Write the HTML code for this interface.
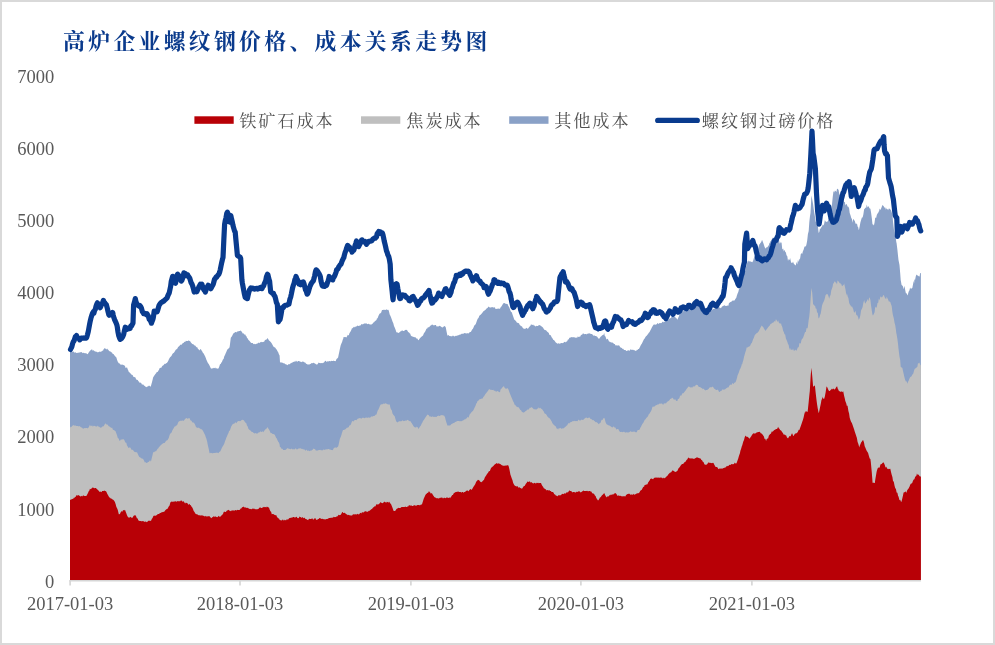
<!DOCTYPE html>
<html lang="zh"><head><meta charset="utf-8"><title>高炉企业螺纹钢价格、成本关系走势图</title>
<style>
html,body{margin:0;padding:0;background:#fff;}
body{width:995px;height:645px;overflow:hidden;}
svg{display:block;will-change:transform;}
.num{font-family:"Liberation Serif",serif;font-size:18.5px;fill:#595959;}
.leg{font-family:"Liberation Serif","Noto Serif CJK SC",serif;font-size:17.2px;fill:#505050;font-weight:400;letter-spacing:1.9px;}
.title{font-family:"Liberation Serif","Noto Serif CJK SC",serif;font-size:21.8px;font-weight:700;fill:#0A3A8C;letter-spacing:3.35px;}
</style></head><body>
<svg width="995" height="645" viewBox="0 0 995 645">
<rect x="0" y="0" width="995" height="645" fill="#D9D9D9"/>
<rect x="2" y="2" width="991" height="641" fill="#FFFFFF"/>
<text x="63.1" y="48.5" class="title">高炉企业螺纹钢价格、成本关系走势图</text>
<text x="54.2" y="82.7" text-anchor="end" class="num">7000</text>
<text x="54.2" y="154.8" text-anchor="end" class="num">6000</text>
<text x="54.2" y="227.0" text-anchor="end" class="num">5000</text>
<text x="54.2" y="299.1" text-anchor="end" class="num">4000</text>
<text x="54.2" y="371.3" text-anchor="end" class="num">3000</text>
<text x="54.2" y="443.4" text-anchor="end" class="num">2000</text>
<text x="54.2" y="515.5" text-anchor="end" class="num">1000</text>
<text x="54.2" y="587.7" text-anchor="end" class="num">0</text>

<path d="M70.0,580.0L70.0,351.0L70.9,351.8L71.6,351.2L72.3,351.8L73.0,351.7L73.8,351.6L74.5,352.8L75.2,352.6L75.5,352.1L75.9,352.7L76.6,353.1L77.3,352.8L78.0,353.0L78.7,352.4L79.4,352.4L80.1,352.5L80.9,352.1L81.6,351.9L82.2,353.2L83.0,352.4L83.7,352.9L84.4,353.1L85.1,353.5L85.8,353.1L86.5,353.6L87.2,354.1L87.7,354.3L88.7,352.6L89.4,351.5L89.9,351.0L90.8,350.1L91.5,349.5L92.2,349.6L92.9,350.9L93.6,350.0L94.3,351.0L95.1,351.4L95.5,351.4L96.5,351.7L97.2,352.0L97.9,352.4L98.6,352.1L99.3,351.7L100.0,351.6L101.0,352.1L101.4,351.4L102.2,350.6L102.9,350.9L103.6,349.3L104.3,348.6L105.0,348.1L105.5,348.8L106.4,349.4L107.1,348.6L107.8,349.4L108.5,349.9L109.3,351.5L110.0,350.7L110.7,352.0L111.0,352.1L111.4,352.2L112.1,352.7L112.8,353.9L113.5,354.1L114.2,355.0L114.9,356.0L115.4,356.5L116.4,357.6L117.1,360.1L117.8,361.8L118.8,363.2L119.2,363.6L119.9,363.5L120.6,364.7L121.3,364.7L122.0,364.6L122.7,364.7L123.5,364.9L124.3,365.4L124.9,365.7L125.6,368.0L126.3,367.8L127.0,367.3L127.7,369.3L128.4,370.8L128.8,372.0L129.1,372.1L129.8,372.8L130.6,373.6L131.3,374.6L132.0,374.8L132.7,375.2L133.4,376.8L134.1,377.2L134.8,377.0L135.4,377.6L136.2,379.6L136.9,379.8L137.7,379.9L138.4,381.2L139.1,381.7L139.8,383.1L140.5,382.4L141.2,383.1L141.9,384.5L142.6,384.6L143.3,384.4L144.0,385.5L144.8,386.0L145.4,386.5L146.2,387.2L146.9,386.7L147.6,386.4L148.3,386.3L149.0,385.6L149.7,386.1L150.4,386.7L150.9,386.0L151.9,382.6L152.6,379.7L153.1,377.6L154.0,375.9L154.7,375.1L155.4,374.0L156.1,373.3L156.8,371.9L157.6,372.0L158.2,371.0L159.0,369.7L159.7,368.0L160.4,367.8L161.1,367.9L161.8,366.7L162.5,365.7L163.1,365.4L163.9,364.8L164.6,363.8L165.3,364.0L166.1,363.2L166.8,363.1L167.6,362.1L168.2,361.1L168.9,359.2L169.6,358.1L170.3,357.1L171.0,356.6L171.7,355.5L172.4,354.0L173.1,353.2L173.9,352.8L174.6,351.7L175.3,350.5L176.0,349.6L176.7,349.3L177.4,348.6L178.1,347.1L178.8,346.6L179.8,345.4L180.3,344.6L181.0,344.9L181.7,344.6L182.4,343.4L183.1,342.9L183.8,342.7L184.2,342.1L184.5,341.8L185.2,341.9L185.9,340.7L186.6,340.9L187.4,341.1L188.1,340.9L188.6,340.3L189.5,341.0L190.2,341.2L190.9,342.4L191.6,343.3L192.3,343.9L193.1,344.3L193.7,344.4L194.5,345.5L195.2,345.5L195.9,346.5L196.6,347.2L197.5,347.6L198.0,349.2L198.7,349.2L199.4,350.5L200.1,349.4L200.8,348.9L201.6,350.5L201.9,351.0L202.3,351.6L203.0,353.0L203.7,353.5L204.4,355.0L205.1,356.3L205.8,358.1L206.4,359.8L207.2,361.5L207.9,363.0L208.7,363.9L209.4,365.2L210.1,366.7L210.8,368.3L211.5,368.7L212.2,367.9L212.9,368.8L213.6,367.8L214.3,368.3L215.2,367.6L215.8,368.5L216.5,368.3L217.2,368.5L217.9,368.8L218.6,368.3L219.3,366.4L220.0,364.3L220.7,364.1L221.4,362.5L221.9,362.1L222.9,359.6L223.6,359.1L224.3,356.3L225.0,355.0L225.7,353.3L226.3,352.1L227.1,350.0L227.8,348.9L228.5,348.5L229.2,348.0L229.7,346.5L230.8,337.7L231.4,337.1L232.1,336.1L232.8,334.5L233.5,333.2L234.2,333.1L235.2,332.1L235.6,331.9L236.3,332.4L237.1,331.4L237.8,331.6L238.5,331.3L239.2,331.0L239.9,331.1L240.7,330.6L241.3,331.3L242.0,331.9L242.7,333.4L243.4,333.3L244.2,334.2L244.9,334.8L245.2,334.3L245.6,335.5L246.3,336.0L247.0,337.8L247.7,338.4L248.5,339.9L249.1,340.4L249.8,341.3L250.5,342.2L251.3,342.9L252.0,343.0L252.7,342.9L253.4,343.9L254.1,344.3L254.8,343.8L255.5,344.3L256.2,344.1L256.9,343.4L257.6,343.6L258.4,342.8L259.1,342.5L259.6,343.2L260.5,342.1L261.2,342.3L261.9,341.7L262.6,342.3L263.3,341.8L264.0,342.1L264.7,340.4L265.5,339.8L266.2,339.7L266.9,339.0L267.4,338.1L268.3,339.3L269.0,340.5L269.7,341.0L270.7,342.1L271.1,342.5L271.8,343.4L272.6,344.9L273.3,346.2L274.0,347.3L274.7,347.2L275.1,347.6L276.1,349.1L276.8,349.7L277.5,351.3L278.2,352.2L278.9,354.3L279.6,355.4L280.0,362.1L280.4,362.4L281.1,362.5L281.8,362.5L282.5,362.8L283.2,363.1L283.9,363.4L284.4,363.2L285.3,364.3L286.0,364.2L286.8,364.8L287.5,365.2L288.2,364.3L288.9,364.3L289.6,364.2L290.3,363.5L291.0,363.2L291.7,362.7L292.4,362.5L293.3,362.1L293.9,361.7L294.6,361.6L295.3,361.7L296.0,360.6L296.7,361.6L297.4,361.8L298.1,361.0L298.8,360.9L299.5,361.3L300.2,361.8L301.0,361.7L301.7,362.3L302.2,361.6L303.1,361.7L303.8,361.8L304.5,362.6L305.2,362.6L305.9,363.4L306.6,364.1L307.3,364.3L308.1,364.8L308.8,364.3L309.5,364.4L310.2,364.0L310.9,363.7L311.6,363.1L312.3,363.2L313.0,363.0L313.7,362.7L314.4,363.3L315.2,363.7L315.5,363.8L315.9,364.3L316.6,364.4L317.3,364.4L318.0,363.5L318.7,362.6L319.4,363.0L320.1,363.0L320.8,363.2L321.5,363.1L322.3,363.3L323.0,362.7L323.7,362.7L324.4,362.1L325.1,360.7L325.8,361.0L326.5,362.0L327.2,361.0L327.9,361.7L328.6,361.3L329.4,361.1L330.1,361.2L330.8,361.3L331.5,360.7L332.2,360.9L332.9,361.1L333.2,360.9L333.6,360.6L334.3,360.9L335.0,361.0L335.7,361.2L336.5,359.1L337.2,358.6L338.1,357.6L338.6,355.0L339.3,351.8L339.9,348.8L340.7,345.2L341.4,343.6L342.1,342.0L342.8,339.5L343.2,338.8L343.6,337.1L344.3,337.0L345.0,337.2L345.7,337.1L346.4,337.5L347.1,336.2L347.8,334.8L348.8,335.4L349.2,333.8L349.9,332.5L350.7,331.3L351.4,329.8L352.1,327.7L352.8,328.6L353.5,326.9L354.2,326.7L354.9,327.5L355.6,326.6L356.3,326.6L357.0,326.0L357.6,325.5L358.5,326.0L359.2,326.0L359.9,325.3L360.6,325.4L361.3,324.3L362.0,323.9L362.7,324.4L363.4,324.1L364.1,323.4L364.9,323.6L365.6,323.6L366.5,323.2L367.0,324.3L367.7,324.0L368.4,323.8L369.1,324.0L369.8,324.4L370.5,324.5L371.2,324.5L372.0,324.2L372.7,323.4L373.4,322.4L374.1,322.2L374.8,321.2L375.5,320.8L376.5,319.9L376.9,318.5L377.6,318.2L378.3,316.3L379.1,314.4L379.8,313.4L380.5,313.2L381.2,312.4L382.0,309.9L382.6,310.0L383.3,310.0L384.0,309.6L384.7,310.0L385.4,310.0L386.2,309.5L386.9,309.6L387.6,309.9L388.3,309.8L388.7,310.6L389.0,311.4L389.7,314.4L390.4,315.8L391.1,317.5L392.0,319.9L392.5,321.5L393.3,323.2L394.0,326.1L394.7,327.4L395.4,329.2L396.1,331.2L396.4,332.8L396.8,332.1L397.5,332.4L398.2,333.0L398.9,332.7L399.6,332.2L400.4,331.2L400.9,331.5L401.8,330.6L402.5,330.6L403.2,331.1L403.9,330.9L404.6,330.4L405.3,329.9L406.0,329.8L406.4,329.9L406.7,329.8L407.5,330.7L408.2,332.2L408.9,332.2L409.6,333.2L410.3,333.8L410.8,335.4L411.7,336.2L412.4,336.6L413.1,336.8L413.8,337.0L414.6,337.3L415.3,337.2L416.0,337.7L416.7,338.7L417.4,338.6L418.1,339.9L418.6,340.3L419.5,338.8L420.2,338.0L420.9,337.3L421.7,336.5L422.4,336.1L423.0,335.4L423.8,333.5L424.5,332.4L425.2,331.4L425.9,329.9L426.4,328.8L427.3,328.5L428.0,327.0L428.8,327.4L429.5,326.8L430.2,325.8L430.9,325.5L431.6,324.4L431.9,325.5L432.3,324.4L433.0,324.7L433.7,325.6L434.4,325.3L435.1,325.1L435.9,325.1L436.6,326.5L437.3,326.5L438.0,326.3L438.6,326.6L439.4,325.7L440.1,326.0L440.8,326.5L441.5,327.1L442.2,327.4L443.0,327.2L443.7,326.6L444.4,326.1L445.2,326.6L445.8,327.6L446.5,331.2L447.4,335.4L447.9,335.5L448.6,335.0L449.3,335.9L450.1,336.1L450.8,336.2L451.5,336.5L452.2,335.4L453.0,336.6L453.6,335.5L454.3,336.6L455.0,336.2L455.7,335.7L456.4,336.0L457.2,335.2L457.9,335.8L458.6,335.1L459.3,334.9L460.0,334.3L460.7,334.8L461.4,333.4L461.9,334.3L462.8,333.6L463.5,333.7L464.3,333.0L465.0,333.3L465.7,333.3L466.4,333.5L467.1,333.3L467.8,333.3L468.5,333.4L469.2,332.7L469.9,331.9L470.7,332.1L471.4,330.9L472.1,329.5L472.8,328.9L473.5,327.5L474.2,325.7L475.2,324.4L475.6,324.5L476.3,322.5L477.0,320.4L477.7,318.7L478.5,317.9L479.2,316.1L479.6,315.5L480.6,314.7L481.3,313.9L482.0,313.2L482.7,312.2L483.4,311.2L484.0,311.0L484.8,310.2L485.6,309.8L486.3,308.7L487.0,308.2L487.7,307.7L488.5,306.6L489.1,307.1L489.8,307.6L490.5,307.4L491.2,307.4L491.9,306.9L492.7,307.3L493.4,307.4L494.1,307.4L494.8,307.2L495.1,307.7L495.5,309.1L496.2,308.9L496.9,308.7L497.6,308.8L498.3,308.4L499.0,308.7L500.0,308.8L500.5,307.6L501.2,306.7L501.9,305.7L502.6,304.4L503.3,303.2L504.0,303.3L504.7,302.9L505.4,303.8L506.1,303.7L506.9,304.0L507.8,304.3L508.3,305.9L509.0,306.8L509.7,308.5L510.4,310.5L511.1,312.1L511.8,312.3L512.5,314.6L513.2,316.6L514.0,318.7L514.4,319.8L515.4,320.6L516.1,321.2L516.8,322.4L517.5,322.8L518.2,323.3L518.9,323.1L519.6,324.8L520.3,325.3L521.1,326.4L521.8,326.0L522.5,327.4L523.3,328.7L523.9,328.2L524.6,328.9L525.3,328.7L526.0,328.3L526.7,327.8L527.4,328.7L528.2,328.5L528.8,327.6L529.6,326.5L530.3,326.1L531.0,324.3L531.7,324.8L532.4,325.0L533.1,324.5L533.8,325.5L534.5,325.4L535.5,326.5L536.0,326.2L536.7,325.8L537.4,326.0L538.1,325.9L538.8,325.1L539.5,325.1L539.9,325.4L540.2,325.6L540.9,325.7L541.6,326.6L542.4,327.0L543.1,327.8L543.8,328.9L544.4,329.8L545.2,330.2L545.9,330.0L546.6,331.1L547.3,331.7L548.0,332.2L548.8,333.1L549.5,335.0L550.2,335.0L550.9,335.4L551.6,337.2L552.3,337.9L553.2,339.8L553.7,339.9L554.4,340.4L555.1,341.6L555.8,342.6L556.6,343.1L557.3,343.7L557.7,343.5L558.0,343.4L558.7,343.2L559.4,343.7L560.1,343.6L560.8,343.2L561.5,343.0L562.2,343.1L562.9,343.2L563.7,342.6L564.3,342.0L565.1,341.8L565.8,342.5L566.5,341.5L567.2,341.2L567.9,339.5L568.6,339.5L569.3,338.1L570.0,337.4L571.0,337.6L571.5,337.0L572.2,337.2L572.9,337.3L573.6,337.3L574.3,336.9L575.0,338.1L575.7,337.6L576.4,337.4L577.1,338.0L577.6,336.5L578.6,337.1L579.3,336.6L580.0,337.0L580.7,335.6L581.4,334.8L582.1,334.8L582.8,333.6L583.5,333.5L584.3,334.2L585.0,334.0L585.7,334.1L586.4,334.4L587.1,333.6L587.8,333.9L588.5,333.5L589.2,333.1L589.8,333.8L590.6,333.8L591.3,333.9L592.1,334.0L592.8,335.0L593.5,335.7L594.3,335.3L594.9,336.1L595.6,336.0L596.3,336.3L597.0,336.5L597.7,337.6L598.7,338.7L599.2,338.8L599.9,337.8L600.6,336.8L601.3,336.2L602.0,335.5L602.7,335.0L603.4,334.9L604.2,333.1L604.8,336.0L605.5,336.6L606.5,339.8L607.0,338.7L607.7,339.1L608.4,339.9L609.1,341.7L609.8,341.4L610.5,342.3L611.2,342.3L611.9,342.7L612.6,342.4L613.1,343.1L614.1,344.0L614.8,343.9L615.5,345.4L616.2,345.3L616.9,345.6L617.6,345.6L618.3,345.4L619.0,345.2L619.8,346.4L620.5,347.4L621.2,347.8L621.9,348.0L622.6,348.9L623.3,348.7L624.0,349.9L624.7,350.1L625.4,350.0L626.4,350.9L626.8,351.1L627.6,350.5L628.3,350.3L629.0,350.5L629.7,350.7L630.4,349.6L630.8,349.3L631.8,349.9L632.5,349.8L633.2,349.8L633.9,350.3L634.7,350.2L635.4,351.0L636.1,350.4L636.4,350.9L636.8,349.7L637.5,350.1L638.2,349.1L638.9,348.9L639.7,347.5L640.3,346.3L641.0,344.8L641.8,343.8L642.5,342.2L643.2,340.7L644.2,338.7L644.6,338.8L645.3,337.3L646.0,336.3L646.7,335.8L647.4,334.8L648.1,333.9L648.6,333.1L649.6,332.0L650.3,330.4L651.0,329.2L651.7,327.8L652.4,326.6L653.0,325.4L653.8,324.6L654.5,324.6L655.2,324.8L656.0,324.4L656.7,324.2L657.5,323.1L658.1,323.4L658.8,324.0L659.5,323.1L660.2,323.0L660.9,323.3L661.6,323.0L662.3,322.1L663.1,321.6L663.8,322.5L664.1,322.0L664.5,321.7L665.2,321.7L665.9,321.3L666.6,320.0L667.3,319.1L668.0,319.3L668.5,319.8L669.4,318.6L670.2,318.3L670.9,318.0L671.6,316.9L672.3,315.8L673.0,316.5L673.7,316.6L674.4,316.8L675.1,316.7L675.8,318.1L676.5,318.3L677.4,319.8L678.0,318.2L678.7,316.7L679.6,314.3L680.1,313.5L680.8,311.7L681.5,311.5L682.2,311.4L682.9,311.0L683.6,311.3L684.1,310.9L685.1,310.2L685.8,310.4L686.5,310.1L687.2,309.6L687.9,310.1L688.6,308.8L689.3,309.4L690.0,309.6L690.7,308.7L691.5,307.9L692.2,307.7L692.9,306.9L693.6,306.6L694.3,306.2L695.2,306.5L695.7,305.9L696.4,304.9L697.1,305.9L697.8,306.2L698.6,305.5L699.3,305.8L699.6,305.4L700.0,305.8L700.7,306.8L701.4,307.7L702.1,309.2L702.8,310.1L703.5,310.5L704.0,312.1L704.9,311.8L705.7,312.0L706.4,312.8L707.1,311.7L707.8,311.1L708.5,310.9L709.2,310.8L709.9,310.6L710.6,310.1L711.3,311.0L712.0,310.3L712.9,308.7L713.5,309.1L714.2,309.0L714.9,307.9L715.6,307.9L716.3,308.3L717.0,307.6L717.7,307.7L718.4,307.7L719.1,307.4L720.0,307.6L720.6,308.3L721.3,307.7L722.0,306.6L722.7,306.3L723.4,305.8L724.1,305.5L724.8,305.3L725.5,306.1L726.2,305.9L727.0,305.8L727.7,305.4L728.4,305.7L728.9,303.2L729.8,302.5L730.5,302.1L731.2,301.8L731.9,301.3L732.6,300.4L733.3,300.4L734.1,300.7L734.8,299.9L735.5,298.8L736.2,297.9L736.9,295.6L737.6,293.5L738.3,291.9L739.0,289.0L740.0,287.7L740.4,286.1L741.2,283.8L741.9,281.4L742.6,278.9L743.3,275.6L744.0,274.2L744.4,272.2L744.7,271.6L745.4,270.6L746.1,266.8L746.8,264.6L747.7,261.1L748.3,260.6L749.0,262.0L749.7,261.1L750.4,261.6L751.1,261.8L751.8,262.1L752.2,262.2L752.5,261.9L753.2,260.4L753.9,258.1L754.6,256.2L755.4,255.3L756.1,253.4L756.6,253.1L757.5,250.8L758.2,248.5L758.9,245.8L759.6,243.8L759.9,244.2L760.3,242.9L761.0,242.6L761.7,240.7L762.1,239.8L762.5,241.1L763.2,242.8L763.9,244.7L764.6,247.0L765.5,248.6L766.0,248.3L766.7,247.1L767.4,247.2L768.1,245.9L768.8,245.2L769.6,242.5L769.9,243.1L770.3,241.5L771.0,240.8L771.7,239.6L772.4,238.1L773.2,237.5L773.8,238.2L774.5,239.4L775.2,239.7L775.9,241.9L776.6,240.9L777.4,241.5L778.1,239.6L778.8,241.3L779.5,244.0L779.9,239.8L780.2,243.4L780.9,241.9L781.6,243.1L782.3,249.6L783.2,248.6L783.8,251.4L784.5,249.7L785.2,251.7L785.9,252.4L786.5,255.3L787.3,256.2L788.0,261.1L788.7,259.0L789.4,260.3L790.1,258.1L791.0,261.9L791.6,263.0L792.3,263.0L793.0,261.5L793.7,263.5L794.3,264.2L795.1,265.0L795.8,265.4L796.5,261.8L797.2,264.4L797.6,261.9L798.0,259.5L798.7,261.9L799.4,259.2L800.1,258.6L800.8,254.0L801.5,252.9L802.1,254.2L802.9,251.3L803.6,249.8L804.3,247.2L805.1,245.9L805.8,246.7L806.5,244.2L807.2,240.5L807.9,234.3L808.7,230.9L809.3,222.3L810.0,216.0L810.5,213.1L811.4,195.4L812.2,199.2L813.1,204.3L813.6,207.9L814.3,212.9L815.0,217.1L815.8,222.0L816.4,221.4L817.1,224.7L817.8,226.1L818.7,233.1L819.3,231.9L820.0,228.0L820.7,229.1L821.4,226.9L822.0,226.5L822.8,224.6L823.5,225.4L824.2,223.5L824.9,220.0L825.6,221.4L826.5,222.0L827.1,221.6L827.8,221.4L828.5,218.1L829.2,218.0L829.8,217.6L830.6,212.5L831.3,208.4L832.0,204.3L832.7,197.3L833.5,191.0L834.2,192.4L834.9,190.5L835.6,191.1L836.4,192.1L837.0,188.9L837.7,188.8L838.6,189.9L839.1,193.3L839.8,194.7L840.6,198.3L840.9,197.6L841.3,199.2L842.0,195.1L842.7,198.0L843.4,200.0L844.2,202.1L844.8,201.9L845.5,205.5L846.2,204.0L846.9,204.5L847.5,206.5L848.4,206.7L849.1,208.3L849.7,213.1L850.5,215.2L851.2,217.8L851.9,219.1L852.6,222.7L853.1,218.7L854.0,220.1L854.8,221.1L855.5,223.4L856.4,224.2L856.9,223.1L857.6,226.5L858.3,227.4L858.6,229.8L859.0,229.8L859.7,226.3L860.4,222.4L861.1,220.0L861.9,217.6L862.6,217.4L863.3,214.8L864.2,208.7L864.7,209.0L865.4,207.6L866.1,208.1L866.8,204.6L867.5,207.6L868.2,205.9L869.0,207.2L869.7,208.4L870.4,208.7L871.1,212.8L871.8,218.0L872.5,224.5L873.0,224.2L873.9,225.6L874.6,222.3L875.2,217.6L876.1,218.0L876.8,214.9L877.5,213.5L878.2,212.9L878.6,210.9L878.9,212.2L879.6,208.4L880.3,210.0L881.0,208.8L881.7,207.0L882.4,204.9L883.0,205.4L883.9,206.6L884.6,207.8L885.3,207.5L886.0,210.0L886.3,207.6L886.7,208.9L887.4,208.9L888.1,210.3L888.8,208.6L889.7,208.7L890.3,209.4L891.0,210.0L891.9,213.1L892.4,214.5L893.1,222.5L894.1,230.9L894.5,232.6L895.2,237.5L895.9,238.9L896.3,242.0L896.6,243.2L897.4,249.8L898.1,256.5L898.5,260.0L899.5,265.1L900.2,273.2L900.7,279.9L901.6,284.9L902.3,285.6L903.0,286.6L903.7,289.3L904.5,285.7L905.2,289.9L905.9,293.2L906.6,293.3L907.4,295.4L908.0,294.0L908.7,291.4L909.4,290.4L910.1,287.5L910.7,288.8L911.6,288.6L912.3,287.9L913.0,284.6L913.7,280.7L914.1,283.2L914.4,279.5L915.1,279.7L915.8,276.2L916.5,274.5L917.4,275.5L917.9,275.6L918.7,276.2L919.6,276.6L920.1,273.1L920.9,273.3L920.9,580.0Z" fill="#8AA1C7"/>
<path d="M70.0,580.0L70.0,427.7L70.9,426.5L71.6,427.0L72.3,425.6L73.0,425.8L73.8,424.7L74.5,425.7L75.2,425.6L75.5,425.5L75.9,425.7L76.6,426.1L77.3,426.1L78.0,426.0L78.7,426.4L79.4,426.1L80.1,426.5L80.9,427.3L81.6,427.6L82.2,427.7L83.0,428.8L83.7,428.5L84.4,428.0L85.1,428.2L85.8,428.0L86.5,427.9L87.2,428.0L87.7,428.4L88.7,427.3L89.4,426.1L89.9,424.8L90.8,426.3L91.5,425.8L92.2,425.4L92.9,426.8L93.6,425.7L94.3,425.7L95.1,426.3L95.5,426.2L96.5,426.7L97.2,425.6L97.9,426.6L98.6,426.6L99.3,426.8L100.0,427.4L101.0,427.7L101.4,427.5L102.2,426.5L102.9,426.5L103.6,426.2L104.3,425.1L105.0,423.9L105.5,423.3L106.4,424.5L107.1,424.4L107.8,424.8L108.5,426.1L109.3,426.4L110.0,426.8L110.7,427.5L111.0,427.7L111.4,428.0L112.1,427.6L112.8,429.4L113.5,429.9L114.2,429.9L114.9,431.0L115.4,431.0L116.4,433.4L117.1,435.4L117.8,437.9L118.8,438.8L119.2,440.3L119.9,440.9L120.6,439.7L121.3,439.3L122.0,439.9L122.7,439.0L123.5,439.3L124.3,439.9L124.9,441.6L125.6,442.8L126.3,442.8L127.0,445.5L127.7,446.6L128.4,447.9L128.8,447.7L129.1,447.5L129.8,447.4L130.6,447.7L131.3,449.7L132.0,449.6L132.7,450.1L133.4,450.5L134.1,451.4L134.8,452.0L135.4,452.1L136.2,452.6L136.9,452.1L137.7,453.8L138.4,455.2L139.1,456.7L139.8,457.2L140.5,457.6L141.2,458.5L141.9,458.3L142.6,458.8L143.3,459.3L144.0,460.5L144.8,462.4L145.4,462.1L146.2,463.1L146.9,462.7L147.6,462.4L148.3,461.9L149.0,461.7L149.7,460.5L150.4,460.4L150.9,461.7L151.9,457.4L152.6,454.8L153.1,452.1L154.0,452.6L154.7,451.4L155.4,451.2L156.1,451.3L156.8,450.1L157.6,448.8L158.2,448.6L159.0,446.9L159.7,446.5L160.4,445.5L161.1,445.0L161.8,444.2L162.5,443.8L163.1,443.2L163.9,443.1L164.6,443.0L165.3,441.9L166.1,440.8L166.8,440.4L167.6,439.9L168.2,439.0L168.9,437.6L169.6,435.1L170.3,433.4L170.9,433.3L171.7,432.2L172.4,430.3L173.2,429.1L173.9,427.7L174.6,426.6L175.3,426.6L176.0,425.6L176.7,425.4L177.4,424.4L178.1,422.6L178.8,421.6L179.8,421.1L180.3,421.0L181.0,420.3L181.7,420.9L182.4,420.6L183.1,420.4L183.8,420.9L184.2,420.0L184.5,419.8L185.2,419.0L185.9,418.3L186.6,418.0L187.4,418.7L188.1,418.4L188.6,418.2L189.5,417.9L190.2,419.8L190.9,420.8L191.6,420.7L192.3,422.6L193.1,422.2L193.7,422.7L194.5,423.6L195.2,425.1L195.9,426.7L196.6,427.6L197.5,427.7L198.0,427.9L198.7,427.5L199.4,428.2L200.1,428.5L200.8,429.2L201.6,429.0L201.9,429.9L202.3,429.8L203.0,431.0L203.7,432.3L204.4,433.7L205.1,435.0L205.8,437.3L206.4,438.8L207.2,441.8L207.9,445.5L208.7,448.8L209.4,452.5L209.7,453.2L210.1,453.3L210.8,452.8L211.5,453.0L212.2,453.2L212.9,453.2L213.6,452.9L214.3,453.1L215.2,452.8L215.8,453.1L216.5,452.6L217.2,453.0L217.9,452.6L218.6,453.2L219.3,451.7L220.0,451.7L220.7,450.6L221.4,449.0L221.9,447.7L222.9,446.1L223.6,445.0L224.3,443.5L225.0,441.3L225.7,439.5L226.3,437.7L227.1,436.0L227.8,434.2L228.5,432.9L229.2,430.6L229.7,431.0L230.7,428.0L231.4,426.0L231.9,425.5L232.8,424.1L233.5,423.8L234.2,423.8L234.9,422.8L235.6,422.3L236.3,423.3L237.1,422.1L237.4,421.7L237.8,421.2L238.5,421.1L239.2,420.9L239.9,421.2L240.6,421.1L241.3,420.3L241.9,420.0L242.7,419.8L243.4,420.0L244.2,420.7L244.9,422.0L245.6,422.7L246.3,423.3L247.0,425.4L247.7,426.4L248.4,428.8L249.1,429.4L249.6,429.9L250.5,430.4L251.3,431.6L252.0,431.9L252.7,431.9L253.4,432.8L254.1,433.3L254.8,433.4L255.5,433.0L256.2,433.4L256.9,433.5L257.6,433.5L258.4,432.5L259.1,432.5L259.6,432.2L260.5,431.2L261.2,432.0L261.9,431.7L262.6,431.3L263.3,432.3L264.0,431.0L264.7,430.2L265.5,429.3L266.2,428.8L266.9,428.2L267.4,427.1L268.3,428.5L269.0,429.6L269.7,430.8L270.7,433.3L271.1,433.0L271.8,433.3L272.6,433.9L273.3,434.0L274.0,434.2L274.7,434.8L275.1,435.5L276.1,437.8L276.8,438.6L277.5,440.2L278.2,441.7L278.9,442.4L279.6,444.4L280.0,447.6L280.4,446.8L281.1,447.9L281.8,448.9L282.5,448.7L283.2,450.0L283.9,450.1L284.4,449.9L285.3,449.9L286.0,449.5L286.8,448.8L287.5,448.0L288.2,448.7L288.9,448.5L289.6,449.1L290.3,449.3L291.0,448.9L291.7,448.6L292.4,449.5L293.3,448.8L293.9,449.8L294.6,449.2L295.3,448.5L296.0,448.4L296.7,449.4L297.4,449.3L298.1,448.9L298.8,448.2L299.5,448.5L300.2,448.2L301.0,448.5L301.7,449.0L302.2,448.8L303.1,449.4L303.8,449.2L304.5,449.5L305.2,450.6L305.9,450.5L306.6,449.6L307.3,450.7L308.1,450.8L308.8,450.5L309.5,451.3L310.2,450.8L310.9,450.4L311.6,450.5L312.3,450.0L313.0,449.3L313.7,448.6L314.4,449.1L315.2,449.2L315.5,449.9L315.9,450.5L316.6,450.6L317.3,450.8L318.0,450.1L318.7,450.2L319.4,449.9L320.1,449.8L320.8,450.2L321.5,450.3L322.3,450.3L323.0,450.2L323.7,449.3L324.4,449.9L325.1,449.6L325.8,449.5L326.5,449.2L327.2,449.5L327.9,449.1L328.6,448.9L329.4,449.6L330.1,449.3L330.8,450.0L331.5,449.9L332.2,450.0L332.9,450.2L333.2,449.2L333.6,448.6L334.3,447.8L335.0,447.5L335.7,447.4L336.5,447.8L337.2,447.2L338.1,446.5L338.6,444.7L339.3,441.4L339.9,438.8L340.7,437.1L341.4,434.9L342.1,432.6L342.8,430.6L343.2,429.9L343.6,429.9L344.3,429.8L345.0,429.5L345.7,429.0L346.4,428.2L347.1,427.6L347.8,427.8L348.8,427.0L349.2,425.6L349.9,425.4L350.7,424.7L351.4,423.0L352.1,421.0L352.8,421.2L353.5,421.4L354.2,420.5L354.9,420.1L355.6,420.0L356.3,420.2L357.0,419.4L357.6,418.8L358.5,418.6L359.2,418.3L359.9,418.0L360.6,418.2L361.3,418.7L362.0,418.1L362.7,417.8L363.4,417.7L364.1,417.9L364.9,418.2L365.6,417.4L366.5,417.7L367.0,417.2L367.7,417.9L368.4,417.5L369.1,417.3L369.8,418.1L370.5,417.3L371.2,416.6L372.0,416.6L372.7,416.4L373.4,416.1L374.1,415.9L374.8,415.8L375.5,414.8L376.5,414.4L376.9,413.3L377.6,410.7L378.3,409.8L379.1,408.0L379.8,406.3L380.5,404.8L380.9,404.4L381.9,404.2L382.6,404.2L383.3,403.6L384.0,403.8L384.7,403.8L385.3,403.3L386.2,403.5L386.9,404.1L387.6,404.3L388.3,404.6L389.0,404.6L389.8,404.4L390.4,407.8L391.1,409.5L391.8,410.3L392.5,413.4L393.1,414.4L394.0,415.6L394.7,416.3L395.4,418.8L396.1,421.1L396.4,421.7L396.8,421.8L397.5,422.4L398.2,421.9L398.9,421.3L399.6,421.3L400.4,421.3L401.1,421.2L402.0,421.0L402.5,420.0L403.2,421.2L403.9,420.8L404.6,421.1L405.3,420.5L406.0,420.7L406.7,420.6L407.5,419.8L408.2,420.3L408.6,420.6L409.6,421.2L410.3,421.1L411.0,422.2L411.7,423.0L412.4,424.3L413.1,425.5L413.8,426.6L414.6,427.2L415.3,427.2L416.0,427.7L416.7,426.6L417.4,427.2L418.1,427.8L418.6,429.2L419.5,427.3L420.2,426.2L420.9,425.4L421.7,423.5L422.4,422.4L423.0,421.0L423.8,419.9L424.5,419.0L425.2,417.7L425.9,416.8L426.6,415.7L427.5,414.4L428.0,414.8L428.8,415.2L429.5,416.6L430.2,416.6L430.9,416.6L431.6,417.0L432.3,416.4L433.0,416.6L433.7,417.0L434.4,416.8L435.1,416.9L435.9,416.8L436.6,416.9L437.3,416.0L438.0,416.0L438.6,415.5L439.4,416.1L440.1,415.9L440.8,415.1L441.5,415.3L442.2,414.9L443.0,415.6L443.7,415.4L444.1,415.5L445.1,417.6L445.8,420.6L446.5,422.8L447.4,425.5L447.9,425.5L448.6,425.4L449.3,425.6L450.1,425.4L450.8,424.8L451.5,423.9L452.2,423.7L453.0,423.2L453.6,423.1L454.3,422.9L455.0,421.8L455.7,421.9L456.4,421.5L457.4,421.0L457.9,421.1L458.6,420.9L459.3,421.1L460.0,421.4L460.7,421.1L461.4,421.2L461.9,421.0L462.8,420.6L463.5,420.2L464.3,419.2L465.0,419.7L465.7,418.8L466.4,418.6L467.1,417.7L467.8,416.8L468.5,417.7L469.2,415.7L469.9,414.1L470.6,413.6L471.4,412.2L472.1,411.6L472.9,411.0L473.5,409.9L474.2,408.4L474.9,407.0L475.6,405.4L476.3,403.6L477.0,402.7L477.4,401.1L477.7,401.2L478.5,400.6L479.2,399.4L479.9,399.3L480.6,398.9L481.3,398.8L482.0,398.5L482.7,398.6L483.4,396.7L484.0,396.6L484.8,394.9L485.6,393.7L486.3,393.1L487.0,392.1L487.7,391.2L488.5,390.0L489.1,389.1L489.8,389.6L490.5,389.7L491.2,389.7L491.9,390.0L492.7,390.1L493.4,389.8L494.1,391.0L494.8,390.5L495.1,390.6L495.5,391.2L496.2,391.7L496.9,391.3L497.6,391.0L498.3,391.6L499.0,392.0L500.0,392.2L500.5,389.5L501.2,388.9L501.9,388.1L502.6,387.2L503.3,386.6L504.0,386.3L504.7,388.1L505.4,388.4L506.1,388.8L506.9,388.6L507.8,388.2L508.3,389.3L509.0,390.9L509.7,393.1L510.4,394.8L511.1,396.6L511.8,398.1L512.5,399.7L513.2,401.5L514.0,402.8L514.4,404.4L515.4,405.1L516.1,406.6L516.8,406.6L517.5,407.3L518.2,407.0L518.9,407.7L519.6,408.7L520.3,410.0L521.1,410.3L521.8,411.7L522.2,412.1L523.2,412.5L523.9,412.4L524.6,412.1L525.3,411.3L526.0,411.1L526.7,410.3L527.4,409.8L528.2,408.9L528.8,409.9L529.6,407.8L530.3,407.7L531.0,407.7L531.7,407.1L532.4,407.7L533.1,408.4L533.8,409.2L534.5,409.3L535.5,409.5L536.0,409.3L536.7,409.5L537.4,408.4L538.1,408.5L538.8,407.2L539.5,408.4L539.9,408.1L540.2,407.8L540.9,408.6L541.6,409.1L542.4,409.5L543.1,410.8L543.8,411.6L544.4,413.2L545.2,413.8L545.9,414.1L546.6,415.1L547.3,416.2L548.0,417.3L548.8,417.7L549.5,418.2L550.2,419.1L550.9,420.3L551.6,421.2L552.3,422.9L553.2,424.3L553.7,424.7L554.4,425.3L555.1,426.2L555.8,426.3L556.6,428.4L557.3,428.6L558.1,429.4L558.7,428.2L559.4,428.4L560.1,427.8L560.8,428.3L561.5,428.8L562.2,428.7L562.9,428.1L563.7,428.5L564.3,427.7L565.1,427.1L565.8,426.5L566.5,425.7L567.2,425.3L567.9,424.1L568.6,422.9L569.3,423.4L570.0,422.5L571.0,422.1L571.5,422.0L572.2,421.6L572.9,421.1L573.6,421.2L574.3,420.8L575.0,421.3L575.7,421.0L576.4,420.9L577.1,421.3L577.6,421.0L578.6,419.6L579.3,420.2L580.0,420.7L580.7,420.3L581.4,419.6L582.1,420.0L582.8,419.8L583.5,419.8L584.3,418.8L585.0,418.3L585.7,417.8L586.4,417.5L587.1,418.0L587.8,418.3L588.5,417.8L589.2,417.6L589.8,417.7L590.6,418.9L591.3,419.1L592.1,419.7L592.8,420.2L593.5,419.9L594.3,421.0L594.9,421.3L595.6,422.2L596.3,422.1L597.0,422.4L597.7,423.0L598.7,424.3L599.2,423.7L599.9,423.1L600.6,422.8L601.3,420.6L602.0,419.6L602.7,420.0L603.4,418.2L604.2,417.7L604.8,418.9L605.5,422.1L606.5,424.3L607.0,424.3L607.7,424.9L608.4,425.3L609.1,425.5L609.8,425.8L610.5,426.3L611.2,426.8L611.9,427.3L612.6,427.5L613.1,426.6L614.1,426.7L614.8,427.8L615.5,427.6L616.2,429.6L616.9,429.3L617.6,429.0L618.3,429.1L619.0,430.5L619.8,431.7L620.5,431.9L621.2,432.1L621.9,431.7L622.6,432.3L623.3,431.9L624.0,431.4L624.7,432.3L625.4,432.6L626.4,432.5L626.8,432.1L627.6,432.6L628.3,432.8L629.0,431.8L629.7,432.3L630.4,430.7L630.8,431.7L631.8,431.7L632.5,431.8L633.2,432.0L633.9,431.3L634.7,431.8L635.4,432.3L636.1,432.0L636.4,432.5L636.8,432.0L637.5,430.3L638.2,429.9L638.9,429.9L639.7,429.4L640.3,427.8L641.0,426.8L641.8,424.9L642.5,423.7L643.2,423.0L644.2,421.0L644.6,420.1L645.3,419.6L646.0,418.6L646.7,417.4L647.4,417.0L648.1,415.9L648.6,414.4L649.6,413.5L650.3,412.2L651.0,411.2L651.7,409.4L652.4,407.1L653.0,406.6L653.8,406.8L654.5,406.4L655.2,405.8L656.0,405.3L656.7,404.9L657.5,404.4L658.1,404.4L658.8,404.3L659.5,403.6L660.2,403.8L660.9,403.6L661.6,403.5L662.3,403.7L663.1,404.9L663.8,403.6L664.1,403.3L664.5,403.6L665.2,403.2L665.9,403.4L666.6,402.4L667.3,401.7L668.0,401.3L668.5,401.0L669.4,400.3L670.2,398.9L670.9,398.7L671.6,398.6L671.9,397.7L672.3,397.8L673.0,398.2L673.7,399.6L674.4,399.8L675.1,399.1L675.8,400.3L676.5,401.1L677.4,401.0L678.0,398.5L678.7,399.3L679.4,398.0L680.1,395.7L680.7,395.5L681.5,395.4L682.2,393.2L682.9,393.5L683.6,393.1L684.4,392.1L685.2,391.1L685.8,390.3L686.5,389.0L687.2,388.3L687.9,387.2L688.5,386.6L689.3,386.7L690.0,387.2L690.7,387.4L691.5,387.2L692.2,387.8L692.9,386.6L693.6,386.5L694.3,386.3L695.0,386.6L695.7,384.9L696.4,384.8L697.4,385.1L697.8,385.2L698.6,386.8L699.3,386.9L700.0,387.0L700.7,387.4L701.4,388.2L701.8,387.7L702.8,389.2L703.5,388.5L704.2,389.5L704.9,390.0L705.7,390.5L706.2,390.0L707.1,390.0L707.8,389.5L708.5,389.0L709.2,388.1L709.9,387.3L710.7,387.3L711.3,387.6L712.0,386.7L712.8,386.8L713.5,387.6L714.2,388.8L715.1,388.9L715.6,389.8L716.3,389.9L717.0,389.9L717.7,389.6L718.4,390.5L719.1,391.9L720.0,391.7L720.6,391.1L721.3,391.1L722.0,390.0L722.7,389.3L723.4,389.8L724.1,389.6L724.8,389.6L725.5,389.0L726.2,388.3L727.0,387.9L727.7,387.3L728.4,387.4L728.9,386.6L729.8,384.9L730.5,384.5L731.2,384.9L731.9,384.2L732.6,382.8L733.3,384.3L734.1,383.1L734.8,382.5L735.5,382.2L736.2,380.5L736.9,378.2L737.6,375.2L738.3,373.7L738.9,372.2L739.7,369.7L740.4,368.5L741.2,366.6L741.9,364.0L742.2,364.2L742.6,362.6L743.3,360.3L744.0,356.9L744.7,354.5L745.4,352.1L746.1,349.9L746.6,347.6L747.5,347.5L748.3,346.8L749.0,346.7L749.9,346.0L750.4,345.3L751.1,343.5L751.8,342.9L752.5,341.0L753.2,338.9L753.9,337.8L754.6,335.6L755.5,334.3L756.1,333.7L756.8,333.0L757.5,332.7L758.2,332.1L758.8,330.9L759.6,329.6L760.3,328.0L761.0,326.7L761.7,325.4L762.5,326.5L763.2,326.9L763.9,328.4L764.6,329.5L765.5,330.9L766.0,329.9L766.7,329.2L767.4,328.3L768.1,327.3L768.8,326.4L769.6,325.5L769.9,325.4L770.3,324.3L771.0,323.7L771.7,323.5L772.4,322.8L773.1,322.8L773.8,322.1L774.3,320.9L775.2,321.8L775.9,319.3L776.7,320.3L777.4,322.0L778.1,320.3L778.8,322.5L779.5,323.3L780.2,323.7L781.0,323.2L781.6,325.5L782.3,326.9L783.2,330.9L783.8,332.1L784.5,334.2L785.2,334.5L785.9,338.4L786.5,339.8L787.3,341.7L788.0,344.1L788.7,345.1L789.4,350.0L789.9,347.6L790.9,350.0L791.6,349.4L792.3,350.2L793.0,348.6L793.7,350.6L794.3,350.9L795.1,349.4L795.8,350.3L796.5,350.7L797.2,348.9L798.0,346.9L798.7,347.6L799.4,342.9L800.1,343.4L800.8,343.2L801.5,339.7L802.2,338.9L803.2,337.6L803.6,336.2L804.3,334.2L805.1,332.0L805.8,332.0L806.5,328.2L807.2,327.8L807.6,328.7L808.6,320.5L809.3,316.2L809.8,311.0L810.7,297.4L811.4,287.7L812.2,292.8L813.1,304.3L813.6,304.4L814.3,305.7L815.0,305.5L815.7,308.6L816.5,308.8L817.1,312.7L817.8,312.5L818.5,318.4L819.4,317.6L820.0,315.2L820.7,313.4L821.4,309.5L822.1,305.2L822.5,304.3L822.8,303.3L823.5,302.0L824.2,300.4L824.9,298.1L825.6,294.9L826.5,294.3L827.1,294.1L827.8,294.6L828.5,296.2L829.2,298.7L829.8,296.6L830.6,294.8L831.3,290.3L832.0,288.6L832.7,286.2L833.1,283.2L833.5,283.8L834.2,281.9L834.9,281.3L835.6,282.5L836.3,282.7L837.0,284.6L837.5,280.4L838.4,281.2L839.1,282.3L839.8,283.2L840.6,283.3L840.9,284.4L841.3,283.9L842.0,286.2L842.7,285.7L843.4,284.6L843.8,285.5L844.1,283.3L844.8,286.3L845.5,289.5L846.4,295.4L846.9,293.2L847.7,296.5L848.4,297.9L849.1,302.4L849.7,304.3L850.5,305.3L851.2,306.9L851.9,306.0L852.6,307.8L853.1,308.8L854.0,312.2L854.8,312.4L855.5,310.8L856.4,315.4L856.9,314.7L857.6,316.1L858.3,317.8L858.6,319.8L859.0,319.2L859.7,318.1L860.4,314.9L861.1,310.2L861.9,308.8L862.6,306.9L863.3,303.0L864.2,299.9L864.7,302.3L865.4,303.8L866.1,302.1L866.8,301.2L867.5,298.8L868.2,301.2L869.0,298.5L869.7,297.3L870.4,299.9L871.1,305.8L871.8,310.6L872.5,314.8L873.0,315.4L873.9,313.8L874.6,312.2L875.2,306.5L876.1,308.0L876.8,306.8L877.5,302.9L878.2,302.7L878.6,299.9L878.9,298.4L879.6,300.4L880.3,296.8L881.0,296.4L881.7,297.4L882.4,296.9L883.0,295.4L883.9,295.0L884.6,297.0L885.3,298.4L886.0,298.7L886.3,298.8L886.7,296.5L887.4,298.3L888.1,299.4L888.8,301.5L889.5,301.4L890.3,302.1L891.0,304.3L891.7,306.0L892.4,312.1L893.0,315.4L893.8,318.2L894.5,322.5L895.2,325.1L895.9,329.5L896.3,333.1L896.6,334.2L897.4,338.9L898.1,344.5L898.5,348.7L899.5,356.7L900.2,360.0L900.7,366.7L901.6,367.5L902.3,367.8L903.0,371.1L903.7,374.1L904.5,377.6L905.2,380.0L905.9,381.4L906.6,381.3L907.3,383.7L908.0,381.8L908.5,381.1L909.4,378.7L910.1,377.3L910.8,376.8L911.6,376.3L912.3,374.3L912.9,374.4L913.7,371.9L914.4,369.6L915.1,368.3L915.8,368.6L916.5,367.6L917.4,366.7L917.9,363.6L918.7,363.3L919.4,362.4L920.1,364.5L920.9,365.5L920.9,580.0Z" fill="#BFBFBF"/>
<path d="M70.0,580.0L70.0,499.8L70.9,499.7L71.6,499.3L72.3,498.9L73.3,498.7L73.8,497.8L74.5,497.7L75.2,496.9L75.9,496.4L76.6,494.9L77.3,495.5L78.0,495.6L78.7,494.9L79.4,495.8L80.1,496.2L80.9,496.5L81.6,495.7L82.2,496.5L83.0,495.4L83.7,495.5L84.4,495.9L85.1,495.9L85.8,496.1L86.6,495.8L87.2,494.5L88.0,493.1L88.7,491.2L89.4,490.6L89.9,488.7L90.8,489.3L91.5,488.4L92.2,487.7L92.9,487.4L93.3,487.6L93.6,487.9L94.3,488.2L95.1,488.1L95.8,488.0L96.6,488.7L97.2,489.6L97.9,489.8L98.6,490.7L99.3,491.6L99.9,492.0L100.7,491.6L101.4,492.2L102.2,490.9L102.9,490.9L103.6,491.0L104.3,490.6L105.0,490.9L105.5,490.9L106.4,491.7L107.1,493.4L107.8,494.8L108.5,496.1L109.3,497.6L109.9,497.6L110.7,498.6L111.4,498.4L112.1,499.3L112.8,499.5L113.5,500.0L114.3,500.9L114.9,501.9L115.6,504.1L116.4,507.1L117.1,508.3L117.8,510.1L118.8,514.2L119.2,514.3L119.9,513.9L120.6,512.4L121.3,511.1L122.1,512.0L122.7,510.8L123.5,510.1L124.2,510.4L125.0,509.8L125.6,511.6L126.3,513.3L127.0,515.2L127.6,516.4L128.4,517.4L129.1,517.5L129.8,517.6L130.6,516.8L131.3,517.7L132.1,517.5L132.7,517.7L133.4,516.0L134.1,515.4L135.0,515.3L135.5,515.3L136.2,516.5L136.9,518.2L137.7,518.5L138.4,520.4L138.7,520.4L139.1,520.7L139.8,520.9L140.5,521.1L141.2,521.1L141.9,521.6L142.6,521.1L143.3,521.0L144.0,521.7L144.8,521.7L145.4,521.5L146.2,521.7L146.9,522.2L147.6,521.5L148.3,520.7L149.0,520.8L149.7,520.8L150.4,520.7L150.9,520.9L151.9,518.8L152.6,518.1L153.1,516.4L154.0,515.5L154.7,515.7L155.4,515.8L156.1,515.6L156.8,515.1L157.6,514.2L158.2,514.1L159.0,513.9L159.7,513.3L160.4,513.0L161.1,512.8L162.0,512.0L162.5,512.2L163.2,511.8L163.9,512.0L164.6,511.2L165.3,510.2L166.1,509.5L166.8,509.1L167.6,508.7L168.2,507.5L168.9,506.2L169.6,505.5L170.3,502.5L170.9,502.0L171.7,501.5L172.4,501.7L173.2,501.7L173.9,501.4L174.6,501.6L175.3,501.5L176.0,501.1L176.7,502.1L177.5,500.9L178.1,501.2L178.8,501.2L179.5,501.2L180.3,501.3L181.0,500.2L181.7,500.7L182.4,501.7L183.1,501.3L183.8,501.6L184.2,502.0L184.5,502.7L185.2,503.5L185.9,502.6L186.6,503.0L187.4,503.3L188.1,504.1L188.8,504.9L189.5,503.8L190.2,505.0L190.8,505.3L191.6,506.7L192.3,507.4L193.0,509.1L193.7,511.1L194.5,512.1L195.3,513.5L195.9,514.1L196.6,514.2L197.3,514.2L198.0,515.0L198.7,515.3L199.4,514.9L200.1,516.1L200.8,514.9L201.6,515.6L202.3,515.5L203.0,515.6L203.7,516.1L204.4,516.2L205.1,516.5L205.8,515.8L206.4,516.4L207.2,516.4L207.9,516.3L208.7,516.2L209.4,516.1L210.1,517.3L210.8,517.5L211.5,518.2L212.2,517.2L212.9,517.0L213.6,516.3L214.3,516.7L215.2,516.4L215.8,516.4L216.5,517.1L217.2,517.3L217.9,516.8L218.6,515.8L219.3,516.7L220.0,516.5L220.8,516.4L221.4,515.5L222.1,514.7L222.9,514.2L223.6,512.3L224.1,511.6L225.0,512.1L225.7,512.1L226.4,511.2L227.1,510.3L227.8,510.5L228.5,509.8L229.2,510.3L230.0,511.2L230.7,511.1L231.4,510.2L231.9,511.3L232.8,509.9L233.5,510.6L234.2,510.7L234.9,510.2L235.6,510.1L236.3,510.4L237.1,510.1L237.4,509.8L237.8,510.0L238.5,509.9L239.2,509.9L239.9,509.8L240.6,508.6L241.3,508.4L241.9,507.6L242.7,506.9L243.4,506.4L244.2,507.6L244.9,507.2L245.6,507.6L246.3,507.7L247.0,507.9L247.7,507.8L248.5,508.2L249.1,509.1L249.8,508.8L250.5,509.0L251.3,509.3L252.0,509.0L252.7,508.4L253.4,508.4L254.1,509.2L254.8,508.5L255.2,509.1L255.5,509.2L256.2,509.4L256.9,509.1L257.6,509.2L258.4,508.9L259.1,508.1L259.8,507.5L260.5,507.5L261.2,508.1L261.8,508.0L262.6,507.4L263.3,507.3L264.0,506.8L264.7,507.2L265.5,506.9L266.2,507.4L266.9,506.4L267.6,507.1L268.5,507.6L269.0,507.4L269.7,509.7L270.4,511.2L271.1,511.7L271.8,514.2L272.6,513.9L273.3,514.0L274.0,514.6L274.7,515.0L275.4,515.3L276.2,514.9L276.8,516.6L277.5,517.5L278.2,518.4L278.9,518.3L279.6,519.8L280.0,520.2L280.4,520.3L281.1,519.9L281.8,520.7L282.5,519.5L283.2,519.8L283.9,520.7L284.6,519.7L285.3,519.9L286.0,520.4L286.7,519.3L287.5,519.5L288.2,519.4L288.9,518.4L289.6,518.0L290.3,517.9L291.1,517.5L291.7,517.7L292.4,517.5L293.1,517.0L293.9,517.0L294.6,517.5L295.3,517.5L296.0,517.0L296.7,516.7L297.4,518.1L298.1,518.2L298.8,518.0L299.5,516.5L300.2,517.0L301.0,517.3L301.7,517.9L302.2,517.1L303.1,517.8L303.8,518.3L304.5,517.6L305.2,518.7L305.9,519.1L306.6,519.3L307.3,519.7L308.1,520.2L308.8,519.1L309.5,518.7L310.2,519.0L310.9,519.0L311.6,518.8L312.3,518.3L313.0,519.5L313.7,519.6L314.4,518.6L315.2,518.0L315.5,518.6L315.9,519.3L316.6,519.9L317.3,519.8L318.0,519.0L318.7,519.1L319.4,518.1L320.1,518.2L320.8,518.5L321.5,519.0L322.3,518.8L323.0,518.9L323.7,519.3L324.4,519.3L325.1,519.5L325.8,519.3L326.5,518.9L327.2,519.1L327.9,518.8L328.6,518.2L329.4,517.9L330.1,517.9L330.8,517.8L331.5,517.8L332.2,517.7L332.9,517.6L333.2,517.5L333.6,516.8L334.3,517.0L335.0,517.3L335.7,517.1L336.5,516.6L337.2,516.5L337.9,515.7L338.6,514.7L339.3,515.0L339.9,515.3L340.7,514.7L341.4,513.7L342.1,512.3L342.8,512.0L343.2,513.1L343.6,513.0L344.3,512.7L345.0,512.9L345.7,513.7L346.4,514.2L347.1,514.5L347.8,515.3L348.8,514.8L349.2,515.2L349.9,515.2L350.7,515.6L351.4,515.6L352.1,515.5L352.8,514.5L353.5,514.3L354.2,514.6L354.9,514.3L355.4,514.2L356.3,514.4L357.0,514.3L357.8,513.7L358.5,514.4L359.2,514.2L359.9,513.3L360.6,512.8L361.3,513.6L362.1,512.0L362.7,512.6L363.4,512.6L364.1,512.1L364.9,511.2L365.6,511.3L366.3,511.4L367.0,511.7L367.7,511.7L368.4,511.3L368.7,510.8L369.1,511.1L369.8,510.5L370.5,509.9L371.2,509.2L372.0,509.0L372.7,507.9L373.4,507.3L374.1,507.0L374.8,506.0L375.4,506.4L376.2,504.6L376.9,504.3L377.6,504.5L378.3,504.4L379.1,503.8L379.8,503.2L380.5,502.1L380.9,502.4L381.9,502.9L382.6,503.2L383.3,502.4L384.0,502.3L384.7,501.6L385.4,502.3L386.2,502.8L386.9,501.8L387.6,502.0L388.3,502.5L388.7,502.4L389.0,501.6L389.7,502.5L390.4,503.6L391.1,504.2L392.0,506.4L392.5,507.7L393.5,510.8L394.0,511.0L394.7,511.1L395.4,510.8L396.1,509.4L396.8,508.8L397.5,508.6L398.2,507.7L398.9,507.9L399.6,507.9L400.4,508.1L401.1,507.3L401.8,506.9L402.5,507.1L403.2,507.1L403.9,507.0L404.6,507.0L405.3,506.6L406.0,507.0L406.4,506.9L406.7,506.9L407.5,506.5L408.2,506.4L408.9,505.2L409.6,505.3L410.3,505.7L411.0,505.2L411.7,505.7L412.4,505.9L413.1,506.0L413.8,505.3L414.6,505.3L415.3,505.6L416.0,505.8L416.7,505.6L417.4,505.0L418.1,505.0L418.8,504.9L419.5,505.2L420.2,505.2L420.9,504.6L421.9,504.6L422.4,502.9L423.1,500.8L423.8,498.6L424.5,497.0L425.3,495.3L425.9,494.3L426.6,493.8L427.3,492.8L428.0,493.0L429.0,490.9L429.5,492.1L430.2,492.6L430.9,493.7L431.6,493.1L432.3,493.8L433.0,495.3L433.7,495.9L434.4,497.3L435.1,497.3L435.9,498.0L436.6,498.3L437.5,498.0L438.0,498.7L438.7,498.2L439.4,498.3L440.1,497.6L440.8,498.1L441.5,497.5L442.2,497.6L443.0,498.6L443.7,498.0L444.1,497.5L445.1,498.2L445.8,497.9L446.5,497.4L447.2,497.6L447.9,497.8L448.6,498.0L449.3,497.5L449.7,497.5L450.1,498.3L450.8,497.1L451.5,496.2L452.2,495.1L452.9,495.0L453.6,493.6L454.1,493.1L455.0,492.6L455.7,492.0L456.4,492.1L457.4,491.6L457.9,492.0L458.6,491.6L459.3,492.0L460.0,492.0L460.7,492.1L461.4,492.8L461.9,492.0L462.8,492.1L463.5,492.8L464.3,492.1L465.0,492.0L465.7,491.2L466.4,491.0L467.1,490.1L467.8,491.1L468.5,491.3L469.2,490.3L469.9,489.5L470.6,488.9L471.4,489.8L471.8,489.8L472.8,488.0L473.5,486.8L474.2,485.7L475.2,484.2L475.6,483.2L476.3,481.6L477.0,480.9L477.7,480.1L478.0,479.8L478.5,480.1L479.2,480.3L479.9,481.2L480.7,482.0L481.3,482.2L482.0,481.8L482.7,481.0L483.4,480.2L484.0,479.8L484.8,477.6L485.6,476.3L486.3,475.2L487.0,474.1L487.4,473.1L487.7,473.8L488.4,472.1L489.1,471.0L489.8,471.2L490.7,468.7L491.2,467.8L491.9,467.2L492.7,466.6L493.4,466.0L494.1,465.0L494.8,464.4L495.1,463.8L495.5,464.3L496.2,463.3L496.9,463.3L497.6,463.7L498.3,463.4L499.0,463.3L500.0,464.3L500.5,464.0L501.2,464.7L501.9,465.3L502.6,465.5L503.3,465.8L504.0,465.8L504.4,465.8L505.4,465.4L506.1,465.7L506.9,465.3L507.6,465.3L508.4,465.4L509.0,467.4L509.7,470.8L510.4,474.5L511.1,476.5L511.8,478.6L512.5,480.3L513.2,482.9L514.0,484.6L514.4,485.3L515.4,485.9L516.1,486.2L516.8,486.5L517.5,486.1L518.2,487.4L518.9,487.5L519.6,487.3L520.3,488.1L521.1,488.2L521.8,488.7L522.2,488.6L523.2,486.9L523.9,486.1L524.6,486.1L525.3,484.7L526.0,483.4L526.6,483.1L527.4,481.5L528.2,481.7L528.9,482.1L529.6,481.6L529.9,480.9L530.3,482.4L531.0,482.2L531.7,482.2L532.4,483.1L533.3,483.5L533.8,483.3L534.5,482.8L535.3,483.2L536.0,483.4L536.7,482.8L537.4,482.9L538.1,482.8L538.8,483.2L539.5,483.1L540.2,483.1L541.0,483.1L541.6,484.5L542.4,486.1L543.1,486.8L543.8,488.2L544.4,488.6L545.2,489.0L545.9,489.6L546.6,490.4L547.3,490.1L548.0,490.3L548.7,490.6L549.5,490.1L549.9,490.9L550.9,491.1L551.6,492.0L552.3,492.1L553.0,492.0L553.7,493.1L554.3,494.2L555.1,494.4L555.8,495.4L556.6,495.7L557.3,495.9L557.7,496.4L558.0,495.6L558.7,495.2L559.4,495.2L560.1,495.4L560.8,494.9L561.5,494.6L562.2,493.9L562.9,493.8L563.7,494.2L564.3,493.1L565.1,493.9L565.8,492.9L566.5,492.5L567.2,492.3L567.9,492.4L568.6,491.4L569.3,490.3L570.0,490.9L571.0,490.9L571.5,491.3L572.2,492.4L572.9,492.0L573.6,491.9L574.3,492.2L575.0,492.1L575.7,492.7L576.4,491.8L577.1,491.7L577.6,492.0L578.6,491.3L579.3,491.2L580.0,491.7L580.7,492.5L581.4,491.9L582.1,491.4L582.8,491.0L583.5,490.6L584.3,490.9L585.0,490.9L585.7,490.9L586.4,490.9L587.1,490.8L587.8,491.2L588.5,491.3L589.2,491.0L589.8,490.9L590.6,491.6L591.3,491.6L592.1,493.0L592.8,493.5L593.5,493.4L594.3,494.2L594.9,495.6L595.6,495.9L596.3,498.0L597.0,499.1L598.0,500.4L598.4,500.3L599.2,499.1L599.9,497.5L600.6,497.3L601.3,496.3L602.0,495.3L602.7,494.7L603.4,494.0L604.2,493.1L604.8,494.3L605.5,495.7L606.5,497.5L607.0,496.4L607.7,496.5L608.4,496.6L609.1,495.7L609.8,495.0L610.5,495.2L610.9,494.2L611.2,494.6L611.9,494.9L612.6,494.3L613.4,494.4L614.1,493.6L614.8,493.4L615.3,493.1L616.2,493.7L616.9,494.7L617.6,495.9L618.3,495.5L619.0,495.5L619.8,496.0L620.5,495.7L621.2,496.1L621.9,496.4L622.6,496.2L623.3,496.5L624.0,495.8L624.7,496.4L625.3,496.4L626.1,495.1L626.8,494.6L627.6,494.1L628.3,494.1L628.6,493.8L629.0,493.6L629.7,494.0L630.4,494.7L631.1,494.4L631.8,494.4L632.5,494.8L633.2,494.6L633.9,493.8L634.7,495.1L635.3,494.2L636.1,493.7L636.8,493.4L637.5,493.2L638.2,493.3L638.9,493.0L639.7,492.0L640.3,490.8L641.0,490.2L641.8,489.8L642.5,488.3L643.2,487.0L644.2,486.4L644.6,485.1L645.3,485.0L646.0,484.6L646.7,484.6L647.5,484.2L648.1,482.5L648.9,481.4L649.6,480.4L650.3,479.1L650.8,478.7L651.7,478.6L652.4,478.9L653.1,479.2L653.8,478.2L654.5,477.7L655.2,477.6L656.0,477.8L656.7,477.5L657.4,477.6L658.1,477.9L658.8,477.3L659.5,477.8L660.2,477.9L660.9,477.1L661.6,477.7L662.3,478.4L663.1,477.5L663.8,478.2L664.1,478.2L664.5,478.2L665.2,477.6L665.9,477.4L666.6,476.3L667.3,475.9L668.0,474.8L668.5,474.2L669.4,473.2L670.2,472.5L670.9,472.6L671.6,471.8L671.9,470.9L672.3,470.6L673.0,470.5L673.7,471.0L674.4,471.6L675.1,471.7L675.8,471.9L676.3,471.6L677.3,471.0L678.0,469.5L678.7,468.1L679.4,467.6L680.1,466.5L680.7,465.4L681.5,464.5L682.2,464.0L682.9,463.9L683.6,463.4L684.4,462.2L685.2,462.0L685.8,461.3L686.5,459.9L687.2,459.5L687.9,458.3L688.5,457.6L689.3,458.1L690.0,458.7L690.7,458.3L691.5,458.6L692.2,458.3L692.9,458.7L693.6,458.8L694.3,458.9L695.0,458.1L695.7,458.2L696.3,457.6L697.1,457.4L697.8,457.5L698.6,458.1L699.3,458.3L700.0,458.2L700.7,458.7L701.4,460.1L702.1,460.2L702.8,461.8L703.5,461.9L704.2,463.8L705.1,464.9L705.7,464.6L706.4,464.8L707.1,464.3L707.8,463.2L708.5,462.3L709.2,462.9L709.6,462.7L709.9,462.5L710.6,463.0L711.3,463.1L712.0,463.2L712.9,462.7L713.5,462.9L714.2,464.5L714.9,465.7L715.6,466.9L716.2,467.1L717.0,467.1L717.7,467.8L718.4,469.2L719.1,468.5L720.0,468.7L720.6,468.6L721.3,468.8L722.0,468.3L722.7,468.7L723.4,467.9L724.1,467.9L724.8,467.5L725.5,467.6L726.2,466.8L727.0,465.8L727.7,466.2L728.4,465.9L729.1,465.1L730.0,464.7L730.5,465.0L731.2,464.2L731.9,464.1L732.6,464.2L733.3,464.2L734.1,463.8L734.8,462.6L735.5,463.4L736.2,463.4L736.6,463.1L737.6,460.2L738.3,458.2L739.0,455.8L740.0,453.1L740.4,450.8L741.2,448.4L741.9,445.9L742.2,445.4L742.6,444.0L743.3,441.4L744.0,439.9L744.7,437.3L745.5,435.4L746.1,436.4L746.8,436.8L747.5,436.8L748.3,437.4L749.0,438.0L749.9,438.7L750.4,437.3L751.1,436.5L751.8,435.3L752.5,434.3L753.3,433.2L753.9,433.5L754.6,433.6L755.4,433.4L756.1,432.8L756.8,432.6L757.5,432.3L758.2,432.0L758.8,432.1L759.6,431.8L760.3,432.6L761.0,433.4L761.7,433.6L762.5,434.5L763.2,435.4L763.9,436.6L764.6,438.9L765.3,438.7L766.1,440.9L766.7,438.9L767.4,438.5L768.1,438.5L768.8,435.7L769.6,434.7L769.9,434.3L770.3,433.9L771.0,433.4L771.7,431.6L772.4,431.7L773.1,431.2L773.8,430.5L774.3,429.9L775.2,429.8L775.9,429.1L776.7,429.1L777.4,428.5L778.1,426.8L778.8,428.3L779.5,428.7L780.2,430.2L780.9,430.3L781.6,431.3L782.1,432.1L783.0,433.3L783.8,434.7L784.3,434.3L785.2,435.6L785.9,434.8L786.6,436.6L787.3,438.3L787.6,437.6L788.0,438.6L788.7,437.2L789.4,436.1L790.1,436.4L791.0,435.4L791.6,433.7L792.3,433.4L793.0,435.5L793.7,436.1L794.4,434.6L795.1,433.5L795.8,433.5L796.5,433.2L797.2,432.8L798.0,431.6L798.7,429.7L799.4,430.0L799.8,428.8L800.8,426.1L801.5,424.0L802.5,421.0L802.9,419.9L803.6,417.4L804.3,414.2L805.1,411.4L805.4,412.8L805.8,410.9L806.5,411.5L807.2,411.8L807.6,412.1L808.6,402.8L809.3,395.4L809.8,391.0L810.7,375.5L811.4,367.8L812.2,375.8L813.1,386.6L813.6,386.4L814.3,385.8L814.9,385.5L815.7,393.1L816.5,399.9L817.1,404.6L817.8,408.7L818.7,413.2L819.3,411.0L820.0,407.4L820.9,403.2L821.4,400.3L822.1,398.8L822.5,396.6L822.8,397.9L823.5,398.8L824.2,398.8L824.9,396.2L825.6,392.6L826.5,386.6L827.1,387.0L827.8,388.4L828.5,390.3L829.2,390.9L829.8,391.0L830.6,390.1L831.3,389.4L832.0,388.6L832.7,389.6L833.1,388.8L833.5,388.5L834.2,389.6L834.9,389.3L835.6,388.3L836.3,386.9L837.1,386.2L837.7,388.6L838.4,389.8L839.1,391.4L839.8,391.0L840.6,391.9L841.3,391.4L842.0,391.5L842.7,392.2L843.1,391.0L843.4,392.2L844.1,395.7L844.8,398.4L845.3,401.0L846.2,403.2L846.9,405.9L847.5,405.5L848.4,411.0L849.1,413.4L849.7,417.7L850.5,420.3L851.2,421.9L851.9,422.9L852.6,425.0L853.1,426.5L854.0,429.0L854.8,431.7L855.5,433.8L856.4,436.5L856.9,437.9L857.6,441.9L858.3,443.8L859.3,447.6L859.7,445.8L860.4,444.2L861.1,442.5L861.9,441.4L862.6,440.5L863.0,439.8L864.0,442.5L864.7,446.2L865.3,447.6L866.1,449.6L866.8,450.9L867.5,452.0L868.1,453.1L869.0,456.3L869.7,458.4L870.4,459.0L870.8,462.0L871.8,472.6L872.6,483.1L873.2,482.6L873.9,482.9L874.8,483.1L875.3,479.6L876.4,473.1L876.8,471.0L877.5,468.8L878.2,467.4L878.9,467.7L879.7,467.6L880.3,464.9L881.0,463.8L881.7,464.2L882.4,463.1L883.2,462.4L883.7,462.5L884.6,464.6L885.3,466.7L886.0,467.7L886.3,466.5L886.7,467.4L887.4,468.7L888.1,469.3L888.8,468.7L889.5,469.0L890.3,468.7L891.0,472.0L891.7,474.7L892.4,477.1L893.0,480.9L893.8,481.7L894.5,485.4L895.2,487.9L895.9,489.1L896.3,490.8L896.6,492.6L897.4,492.7L898.1,496.1L898.5,496.4L899.5,500.2L900.2,499.8L900.9,501.5L901.4,501.9L902.3,498.6L903.0,495.5L903.6,492.6L904.5,492.2L905.2,491.7L905.9,491.4L906.3,493.1L907.3,489.9L908.0,489.3L908.7,488.2L909.6,486.4L910.1,485.1L910.8,483.8L911.6,483.5L912.3,482.7L912.9,480.9L913.7,479.5L914.4,479.3L915.1,477.1L915.8,476.2L916.5,475.4L916.9,473.5L917.9,475.1L918.7,474.5L919.4,475.9L920.1,476.4L920.9,476.4L920.9,580.0Z" fill="#B80006"/>
<line x1="69.3" y1="580.8" x2="920.9" y2="580.8" stroke="#D6D6D6" stroke-width="1.6"/>
<line x1="70.1" y1="580.5" x2="70.1" y2="585.6" stroke="#D4D4D4" stroke-width="1.6"/>
<line x1="240.0" y1="580.5" x2="240.0" y2="585.6" stroke="#D4D4D4" stroke-width="1.6"/>
<line x1="410.9" y1="580.5" x2="410.9" y2="585.6" stroke="#D4D4D4" stroke-width="1.6"/>
<line x1="580.9" y1="580.5" x2="580.9" y2="585.6" stroke="#D4D4D4" stroke-width="1.6"/>
<line x1="751.9" y1="580.5" x2="751.9" y2="585.6" stroke="#D4D4D4" stroke-width="1.6"/>

<path d="M70.5,349.5L71.2,348.0L71.6,347.4L71.9,346.5L72.6,343.6L73.3,341.8L73.7,341.1L74.0,341.1L74.7,338.7L75.4,336.6L76.1,336.1L76.5,335.6L76.9,337.1L77.6,338.0L78.6,338.1L79.0,338.3L79.7,339.8L80.4,338.9L81.1,338.2L82.0,338.3L82.5,338.0L83.2,338.2L84.0,338.0L84.7,338.0L85.4,338.2L86.2,338.1L86.8,337.1L87.5,334.6L88.3,331.4L88.9,328.1L89.7,323.7L90.3,320.8L91.1,317.5L91.8,315.4L92.5,313.2L93.2,312.0L93.9,313.2L94.6,310.4L95.3,309.5L96.0,306.3L96.7,304.3L97.4,302.8L98.2,304.2L98.9,305.6L99.6,306.8L100.2,307.7L101.0,305.9L101.7,303.8L102.4,303.5L103.4,300.4L103.8,301.6L104.5,302.4L105.3,303.8L106.0,304.2L106.4,304.9L107.4,308.6L108.1,311.9L108.8,314.6L109.2,315.3L110.2,314.4L110.9,314.3L111.6,313.9L112.4,314.1L112.7,312.5L113.1,314.5L113.8,317.4L114.1,318.1L114.5,319.4L115.2,321.1L115.9,322.4L116.9,325.1L117.3,327.1L117.9,331.4L118.7,335.6L119.7,338.3L120.2,339.3L120.9,338.9L121.6,338.4L122.5,337.0L123.0,336.0L123.7,334.2L124.4,330.8L125.3,327.2L125.8,328.6L126.6,328.6L127.3,329.2L128.1,328.6L128.7,327.9L129.4,328.7L130.1,328.4L130.9,325.8L131.5,326.0L132.2,324.6L133.0,323.0L133.6,304.9L134.4,302.3L135.3,298.6L135.8,301.0L136.5,303.1L137.1,304.9L137.9,305.2L138.6,305.8L139.3,306.4L139.9,305.6L140.8,306.8L141.5,308.4L142.4,311.8L142.9,312.2L143.6,313.6L144.3,313.1L145.0,313.6L145.5,313.9L146.4,314.7L147.1,313.8L147.9,315.4L148.3,316.0L149.3,319.5L150.0,320.0L150.7,321.3L151.1,322.3L151.4,323.2L152.1,321.4L152.8,319.6L153.2,318.1L153.5,316.3L154.2,311.1L155.0,311.8L155.7,311.5L156.7,311.8L157.1,311.8L157.8,309.8L158.8,306.3L159.2,305.0L159.9,304.1L160.6,303.2L161.3,302.4L162.2,302.1L162.8,301.4L163.5,301.4L164.2,300.7L164.9,299.8L165.6,299.3L166.4,298.6L167.0,298.1L167.7,296.1L168.4,294.5L169.2,293.0L169.9,289.8L170.6,286.5L171.3,281.2L172.0,278.8L172.7,276.3L173.4,277.7L174.1,279.8L174.8,282.9L175.5,283.3L176.3,280.0L177.0,275.4L177.6,274.2L178.4,275.5L179.1,275.6L179.8,277.1L180.5,277.4L181.2,281.1L181.8,280.5L182.6,278.4L183.4,275.2L183.9,272.8L184.8,273.4L185.5,273.7L186.0,275.6L186.9,274.4L187.6,274.8L188.3,276.4L188.6,276.5L189.0,277.2L189.7,278.1L190.5,280.7L191.2,282.9L192.0,284.2L192.6,285.8L193.3,288.2L194.2,292.0L194.7,290.7L195.4,291.6L196.4,290.9L196.8,291.7L197.6,289.9L198.3,288.4L198.6,287.6L199.0,286.9L199.7,285.5L200.4,284.2L201.1,284.6L201.9,284.2L202.5,286.4L203.2,288.5L203.9,289.8L204.7,290.6L205.3,292.0L206.1,289.8L206.8,287.4L207.5,286.5L208.2,285.3L208.9,286.5L209.6,287.5L210.3,287.8L210.8,288.7L211.8,287.0L212.5,285.5L213.2,284.4L213.9,281.8L214.6,279.0L215.2,278.7L216.0,277.0L216.7,277.0L217.4,275.9L218.1,275.2L218.9,274.2L219.7,272.0L220.3,269.5L221.0,266.0L221.7,262.6L222.4,259.6L223.0,257.6L223.8,240.7L224.6,224.4L225.2,221.0L226.0,217.8L226.7,213.7L227.4,212.2L228.1,214.8L228.8,217.7L229.7,222.1L230.2,218.8L230.8,215.5L231.6,219.2L232.3,222.0L233.0,225.5L233.8,228.4L234.5,230.9L235.2,232.1L235.9,239.8L236.6,247.1L237.4,255.4L238.0,256.0L238.7,256.5L239.4,256.6L240.2,257.3L240.7,258.7L241.9,279.8L242.3,282.7L243.0,286.5L243.7,290.2L244.4,294.0L245.2,297.5L245.8,297.8L246.5,298.4L247.4,298.6L248.0,295.7L248.7,292.6L249.6,289.8L250.1,289.5L250.8,287.9L251.5,288.2L252.2,288.0L252.9,288.7L253.6,288.3L254.4,289.1L255.1,289.0L255.8,288.7L256.5,288.3L257.2,288.4L257.9,289.1L258.6,288.7L259.3,288.0L260.0,287.5L260.7,287.4L261.5,287.1L261.8,288.7L262.2,288.1L262.9,286.5L263.6,286.0L264.3,283.8L265.1,282.0L265.7,280.8L266.4,277.0L267.4,274.3L267.8,274.5L268.6,277.7L269.3,280.7L269.6,280.9L270.0,285.3L270.7,292.0L271.4,292.5L272.1,293.0L272.8,293.7L273.5,293.5L274.0,295.3L274.9,296.3L275.7,299.2L276.4,302.6L277.3,304.2L277.8,312.3L278.4,321.9L279.2,320.3L280.0,319.7L280.6,317.0L281.3,313.1L282.2,307.5L282.8,307.8L283.5,307.5L284.2,305.9L284.9,305.5L285.6,305.3L286.3,305.2L287.0,305.1L287.7,304.5L288.4,304.4L288.9,304.2L289.9,299.2L290.6,297.4L291.3,294.3L292.2,289.8L292.7,287.4L293.4,285.1L294.1,283.3L294.8,279.9L295.5,278.3L296.0,276.5L297.0,278.8L297.7,280.2L298.4,281.9L299.1,284.1L299.5,284.2L300.5,284.7L301.2,283.3L301.9,282.3L302.6,282.6L303.3,282.0L304.1,284.0L304.8,287.0L305.5,289.9L306.2,290.8L307.1,294.2L307.6,293.8L308.3,292.1L309.0,289.5L309.9,286.5L310.4,285.4L311.2,283.6L311.9,282.7L312.6,281.6L313.3,280.9L314.0,278.6L314.7,275.5L315.4,271.9L316.1,269.8L316.8,270.3L317.5,271.3L318.3,272.5L319.0,273.5L319.9,275.4L320.4,276.8L321.1,281.6L321.8,284.0L322.1,285.3L322.5,286.0L323.2,286.2L323.9,286.2L324.6,286.4L325.4,284.7L326.1,284.5L326.6,285.3L327.5,282.4L328.2,280.8L328.9,278.3L329.2,276.5L329.6,277.0L330.3,277.5L331.0,278.3L331.7,279.3L332.5,279.5L332.8,279.8L333.2,278.0L333.9,277.1L334.6,275.9L335.3,274.2L336.0,272.4L336.6,269.8L337.4,269.3L338.1,268.6L338.8,266.7L339.6,265.8L340.3,264.6L341.0,264.3L341.7,262.1L342.4,260.3L343.1,258.8L343.8,257.6L344.3,255.4L345.2,252.1L345.9,250.7L346.7,247.8L347.6,245.4L348.1,245.7L348.8,246.9L349.5,247.0L350.2,249.0L350.9,249.9L351.6,250.6L352.1,252.1L353.0,250.5L353.8,250.4L354.5,247.8L355.2,245.0L355.9,243.0L356.5,241.0L357.3,243.6L358.0,245.4L358.7,246.5L359.4,244.9L360.1,243.7L360.9,242.0L361.6,240.0L362.1,239.9L363.0,241.2L363.7,241.8L364.4,241.8L365.1,241.5L365.8,243.2L366.5,244.3L367.2,242.6L368.0,242.5L368.7,241.4L369.4,241.4L370.1,241.3L370.9,241.0L371.5,240.8L372.2,240.3L372.9,239.1L373.6,238.7L374.3,238.2L375.1,237.8L375.4,238.1L375.8,237.6L376.5,237.0L377.2,233.6L377.9,232.8L378.7,231.5L379.3,233.0L380.0,233.3L380.7,232.1L381.4,232.8L382.2,232.8L382.5,233.2L382.9,234.6L383.6,237.8L384.2,241.0L385.0,244.2L385.7,247.2L386.5,251.0L387.1,252.2L387.8,254.8L388.7,256.5L389.3,258.9L390.2,264.3L390.9,279.8L391.4,284.3L392.1,290.7L392.8,297.9L393.1,299.8L393.5,294.4L394.2,286.5L394.9,284.7L395.6,284.3L396.4,283.6L397.1,284.2L397.8,288.4L398.5,291.9L399.2,295.6L399.8,298.6L400.6,298.5L401.3,296.4L402.0,296.3L402.7,295.0L403.1,295.3L403.5,295.2L404.2,295.5L404.9,295.3L405.6,296.4L406.4,297.5L407.0,297.6L407.7,298.3L408.4,298.9L409.1,300.5L409.7,300.9L410.6,300.2L411.3,298.5L412.0,297.1L412.7,296.7L413.1,296.4L413.4,297.5L414.1,298.3L414.8,299.4L415.5,300.4L416.2,301.7L416.9,303.5L417.5,305.3L418.4,304.4L419.1,303.0L419.8,301.2L420.5,300.9L420.8,300.9L421.2,299.5L421.9,298.4L422.6,298.0L423.3,298.0L424.0,297.4L424.8,296.4L425.3,295.3L426.2,294.3L426.9,293.3L427.6,293.7L428.3,291.5L429.0,290.4L429.7,294.1L430.4,296.8L431.1,300.7L431.9,303.1L432.6,302.8L433.3,301.7L434.0,300.2L434.7,299.3L435.2,299.8L436.1,298.8L436.8,297.4L437.5,296.2L438.2,294.6L438.6,293.1L439.0,293.9L439.7,294.3L440.4,295.6L441.1,295.8L441.9,296.4L442.5,294.7L443.2,293.3L443.9,292.5L444.6,290.7L445.3,288.9L445.9,288.7L446.8,290.8L447.5,291.7L448.2,293.0L448.9,294.1L449.7,295.3L450.3,294.0L451.0,292.4L451.7,288.8L452.4,287.6L453.0,285.3L453.9,282.7L454.6,282.0L455.3,279.1L456.0,277.8L456.3,275.4L456.7,275.5L457.4,275.7L458.1,276.0L458.8,275.6L459.5,274.1L460.3,274.5L460.7,275.4L461.7,273.4L462.4,274.3L463.1,273.2L464.1,272.0L464.5,271.7L465.2,271.3L465.9,271.0L466.6,271.3L467.4,271.5L468.1,271.1L468.5,271.4L469.5,272.5L470.2,274.8L470.9,276.0L471.6,277.9L472.3,278.9L472.9,280.9L473.7,279.4L474.5,277.7L475.2,278.5L475.9,276.9L476.3,275.8L476.6,276.0L477.3,278.2L478.0,279.7L478.7,280.4L479.6,280.9L480.1,281.2L480.8,282.9L481.6,283.6L482.3,284.1L483.0,284.8L483.7,285.9L484.0,287.6L484.4,286.7L485.1,286.6L485.8,288.1L486.2,286.5L487.2,290.3L487.9,292.8L488.5,294.2L489.4,292.2L490.1,291.1L490.8,289.0L491.5,287.1L491.8,286.5L492.2,285.0L492.9,283.7L493.6,281.8L494.0,279.8L494.3,279.7L495.0,280.1L495.8,281.6L496.5,282.4L497.3,283.1L497.9,283.4L498.6,282.2L499.3,282.9L500.0,283.1L500.7,283.6L501.4,282.9L502.1,283.4L502.9,283.3L503.6,283.4L504.4,284.3L505.0,285.1L505.7,285.3L506.4,285.2L507.1,285.1L507.8,286.6L508.4,288.8L509.2,291.7L510.0,293.1L510.7,295.9L511.1,298.8L512.1,303.5L512.8,306.7L513.3,307.6L514.2,306.9L514.9,305.1L515.6,303.9L516.3,303.0L517.3,302.1L517.8,302.5L518.5,303.6L519.2,305.2L520.0,306.5L520.6,309.6L521.3,311.8L522.0,313.7L522.6,315.4L523.4,313.3L524.2,312.5L524.9,310.5L525.6,310.1L526.3,308.3L526.6,307.6L527.0,307.1L527.7,305.4L528.4,306.0L529.1,304.0L529.9,303.2L530.5,304.2L531.3,305.8L532.0,306.7L532.8,308.7L533.4,307.2L534.1,305.9L534.8,302.5L535.5,300.2L536.2,298.4L536.6,296.5L536.9,297.4L537.6,297.7L538.4,299.1L539.1,300.2L539.9,301.0L540.5,302.4L541.2,302.4L541.9,303.8L542.6,304.0L543.2,305.4L544.0,308.0L544.7,309.3L545.5,310.0L546.2,312.0L546.6,312.1L546.9,311.3L547.6,310.6L548.3,310.9L549.0,309.8L549.9,308.7L550.4,307.8L551.1,305.8L551.8,304.9L552.6,304.5L553.3,303.7L554.0,302.5L554.3,302.1L554.7,301.8L555.4,301.8L556.1,301.7L556.8,301.7L557.7,299.9L558.2,294.0L558.9,287.2L559.9,277.7L560.4,276.4L561.1,275.2L561.8,273.6L562.5,273.0L563.2,271.7L563.9,275.3L564.6,277.8L565.4,282.1L566.0,282.1L566.8,281.7L567.6,283.2L568.2,284.2L568.9,286.5L569.9,288.8L570.3,289.1L571.0,288.1L571.7,289.0L572.1,288.8L572.4,289.9L573.1,291.2L573.9,292.0L574.6,293.9L575.4,296.5L576.0,298.5L576.7,301.7L577.6,306.5L578.1,305.6L578.8,303.0L579.5,302.6L580.2,302.5L580.9,302.1L581.7,303.2L582.4,303.0L583.1,305.1L583.8,305.5L584.5,305.6L585.4,305.4L585.9,306.6L586.6,306.1L587.3,305.4L588.1,306.0L588.8,306.0L589.5,304.6L589.8,305.4L590.2,306.5L590.9,309.6L591.6,312.6L592.0,314.3L593.0,318.6L593.7,322.2L594.4,324.2L595.4,327.6L595.9,327.7L596.6,328.1L597.3,328.3L598.0,328.9L598.7,328.0L599.4,328.5L600.1,328.4L600.8,327.4L601.5,327.4L602.0,327.6L603.0,326.8L603.7,324.6L604.4,321.6L605.3,320.9L605.8,321.5L606.5,324.5L607.2,328.6L607.6,328.7L607.9,329.2L608.6,327.7L609.4,326.6L610.1,326.3L610.8,325.7L611.5,327.2L612.0,325.4L612.9,322.9L613.6,321.7L614.3,319.6L615.3,316.5L615.7,317.2L616.5,317.3L617.2,316.9L617.9,317.8L618.6,318.6L619.3,318.8L620.0,319.7L620.9,319.8L621.4,321.3L622.1,322.3L623.1,326.5L623.6,324.7L624.3,325.2L625.0,325.1L625.7,324.8L626.4,324.6L627.1,323.1L627.8,322.5L628.6,320.5L629.2,321.1L629.9,321.6L630.7,321.8L631.4,321.9L632.1,321.7L632.8,322.5L633.5,323.8L634.2,323.7L634.9,324.4L635.3,324.3L635.6,324.1L636.3,323.0L637.0,323.0L637.8,322.4L638.5,322.2L639.2,321.3L639.9,320.3L640.6,320.0L641.3,320.5L641.9,319.8L642.7,318.6L643.4,317.5L644.1,316.2L644.9,314.7L645.3,313.2L645.6,313.7L646.3,314.6L647.0,317.0L647.5,317.6L648.4,317.0L649.1,314.2L649.8,314.1L650.5,313.6L651.2,311.7L652.0,311.6L652.7,310.5L653.0,309.8L653.4,309.7L654.1,309.8L654.8,310.4L655.5,313.1L656.2,313.1L656.9,313.4L657.5,313.2L658.3,312.5L659.1,312.1L659.8,311.6L660.5,312.2L660.8,312.1L661.2,313.0L661.9,313.1L662.6,314.7L663.3,315.5L664.0,316.8L664.7,317.4L665.4,317.7L665.9,318.7L666.9,316.7L667.6,315.2L668.3,313.2L669.0,312.1L669.7,310.9L670.4,311.7L671.1,312.6L671.8,312.8L672.5,312.8L673.0,314.3L674.0,312.2L674.7,310.7L675.2,308.7L676.1,309.8L676.8,310.7L677.5,311.4L678.2,312.2L678.5,312.1L678.9,311.7L679.6,311.2L680.4,309.7L681.1,307.8L681.9,307.6L682.5,307.6L683.2,306.8L683.9,307.1L684.6,308.1L685.3,308.3L686.3,308.7L686.7,307.3L687.5,307.1L688.2,307.0L688.5,305.4L688.9,305.5L689.6,305.3L690.3,306.7L691.0,307.2L691.8,307.6L692.4,307.4L693.1,306.7L693.8,305.9L694.6,303.6L695.3,302.9L696.3,302.1L696.7,301.6L697.4,302.7L698.1,303.7L698.8,304.1L699.5,303.4L700.2,303.2L700.7,303.6L701.7,306.2L702.4,308.0L703.1,309.5L703.8,310.2L704.5,311.0L705.1,312.1L705.9,311.4L706.6,312.4L707.3,311.0L708.0,310.1L708.5,309.8L709.5,308.8L710.2,306.7L710.9,305.5L711.6,304.1L712.3,304.7L712.9,303.2L713.7,303.9L714.4,305.0L715.1,305.6L715.9,305.8L716.6,306.1L717.3,304.3L718.0,303.5L718.7,302.2L719.4,301.3L720.0,301.0L720.8,299.3L721.5,298.6L722.2,296.6L723.0,296.5L723.3,295.4L723.7,293.0L724.4,288.4L725.1,282.2L725.5,277.7L726.5,276.8L727.2,274.8L727.9,273.3L728.6,272.0L729.3,271.1L730.1,269.8L730.8,269.8L731.1,267.7L731.5,268.7L732.2,269.9L732.9,271.3L733.6,272.4L734.4,275.5L735.0,276.7L735.7,278.4L736.4,279.9L737.2,281.8L737.9,284.0L738.9,285.5L739.3,284.8L740.0,281.4L740.7,278.6L741.4,275.6L742.2,273.3L742.8,269.3L743.5,265.8L744.4,262.2L744.8,244.2L745.7,238.6L746.6,233.1L747.1,240.3L747.7,248.6L748.5,246.9L749.2,246.2L749.9,244.6L750.6,243.2L751.4,242.7L752.2,242.0L752.8,240.4L753.5,242.9L754.2,245.3L754.9,245.5L755.5,247.5L756.3,251.5L757.0,253.9L757.7,258.6L758.5,257.6L759.2,258.5L759.9,258.0L760.6,259.7L761.3,260.1L762.1,260.8L762.7,260.5L763.4,259.1L764.1,259.5L764.8,258.9L765.6,259.3L766.3,258.9L766.6,259.7L767.0,258.7L767.7,258.4L768.4,257.8L769.1,256.1L769.9,255.3L770.5,254.0L771.2,251.7L771.9,248.6L772.7,246.2L773.4,243.8L774.3,240.9L774.8,240.6L775.5,239.9L776.2,240.2L776.9,237.8L777.6,236.4L778.1,236.4L779.0,228.5L779.4,227.6L779.8,228.0L780.5,230.0L781.2,229.5L781.9,230.3L782.6,232.6L783.2,233.1L784.0,233.3L784.7,232.6L785.4,231.5L786.1,230.5L786.5,229.8L786.9,230.3L787.6,229.7L788.3,229.5L789.0,230.0L789.9,228.7L790.4,225.7L791.1,223.1L792.1,218.7L792.5,216.7L793.2,215.2L794.0,212.1L794.7,208.6L795.4,205.4L796.1,208.2L796.8,207.5L797.5,207.8L798.1,208.7L798.9,207.4L799.6,208.0L800.3,207.1L801.1,205.6L802.1,204.3L802.5,202.4L803.2,199.3L803.9,196.7L804.3,195.4L804.6,194.3L805.3,193.9L806.0,193.8L806.7,193.0L807.6,191.0L808.2,187.7L808.9,181.6L809.8,173.2L810.3,164.5L810.9,153.3L811.7,137.5L812.0,131.1L812.4,138.2L813.1,153.3L813.8,156.4L814.5,161.9L815.4,168.8L816.0,181.8L816.5,193.2L817.6,210.9L818.1,215.0L818.8,221.4L819.1,224.2L819.5,221.5L820.2,216.3L820.9,213.1L821.6,209.4L822.5,205.4L823.1,207.1L823.8,209.4L824.2,210.9L825.2,208.6L825.9,205.3L826.5,203.2L827.3,205.3L828.0,207.4L828.7,206.5L829.5,210.8L830.2,214.4L830.9,217.6L831.6,219.3L832.3,220.7L832.7,222.0L833.0,221.5L833.7,222.3L834.4,221.9L835.1,221.3L835.8,220.6L836.4,219.8L837.3,216.2L838.0,214.2L838.6,210.9L839.4,209.4L840.1,205.8L840.8,202.3L841.5,198.7L842.2,196.3L842.9,193.1L843.7,192.2L844.4,189.4L845.3,186.5L845.8,185.0L846.5,184.2L847.2,183.1L847.9,183.3L848.6,182.5L849.1,181.7L850.0,186.7L850.8,192.1L851.3,196.5L852.2,192.7L852.9,191.4L853.6,189.2L854.2,187.6L855.0,190.2L855.7,192.5L856.4,195.4L857.1,197.9L857.9,202.4L858.6,206.5L859.3,203.5L860.0,201.9L860.7,200.7L861.4,198.5L861.9,196.5L862.8,195.1L863.5,193.5L864.2,191.2L865.0,189.6L865.3,189.9L865.7,187.5L866.4,186.5L867.1,185.3L867.5,184.3L867.8,183.0L868.5,178.3L869.2,174.8L869.7,172.1L870.6,170.3L871.3,168.9L871.9,165.5L872.8,159.7L873.5,154.3L874.1,149.9L874.9,149.0L875.6,149.0L876.3,148.9L877.0,148.8L877.5,147.7L878.4,145.5L879.2,143.7L879.9,142.5L880.8,141.1L881.3,141.5L882.0,140.5L882.7,139.0L883.7,136.6L884.1,145.0L884.6,151.0L885.5,153.8L886.3,153.4L887.0,155.2L887.4,155.5L888.5,177.7L889.1,179.9L889.8,182.4L890.8,185.4L891.2,187.0L891.9,191.4L892.6,195.8L893.0,197.6L893.4,199.6L894.1,206.0L894.8,212.2L895.2,215.4L896.2,217.2L896.8,217.6L897.4,236.4L898.3,233.8L899.0,231.4L899.7,229.5L900.7,226.5L901.2,230.0L901.9,232.0L902.6,229.9L903.3,228.6L904.0,227.5L904.5,226.0L905.4,226.6L906.1,226.0L906.8,227.7L907.4,228.7L908.3,226.3L909.0,225.1L909.6,222.5L910.4,223.7L911.1,224.0L911.8,224.0L912.5,224.2L913.2,222.2L913.9,221.8L914.7,220.7L915.6,218.0L916.1,219.4L916.8,220.2L917.5,220.8L918.5,223.8L918.9,224.5L919.6,227.8L920.3,230.0L920.7,230.9" fill="none" stroke="#093B8E" stroke-width="5.2" stroke-linejoin="round" stroke-linecap="round"/>
<text x="70.1" y="609.6" text-anchor="middle" class="num">2017-01-03</text>
<text x="240.0" y="609.6" text-anchor="middle" class="num">2018-01-03</text>
<text x="410.9" y="609.6" text-anchor="middle" class="num">2019-01-03</text>
<text x="580.9" y="609.6" text-anchor="middle" class="num">2020-01-03</text>
<text x="751.9" y="609.6" text-anchor="middle" class="num">2021-01-03</text>

<rect x="194.4" y="116.3" width="39.3" height="7.5" fill="#B80006"/>
<text x="239.2" y="127.3" class="leg">铁矿石成本</text>
<rect x="361" y="116.3" width="39.3" height="7.5" fill="#BFBFBF"/>
<text x="406.3" y="127.3" class="leg">焦炭成本</text>
<rect x="509.2" y="116.3" width="39.3" height="7.5" fill="#8AA1C7"/>
<text x="554.2" y="127.3" class="leg">其他成本</text>
<line x1="657.7" y1="120.4" x2="697.3" y2="120.4" stroke="#093B8E" stroke-width="5.2" stroke-linecap="round"/>
<text x="701.8" y="127.3" class="leg">螺纹钢过磅价格</text>
</svg>
</body></html>
